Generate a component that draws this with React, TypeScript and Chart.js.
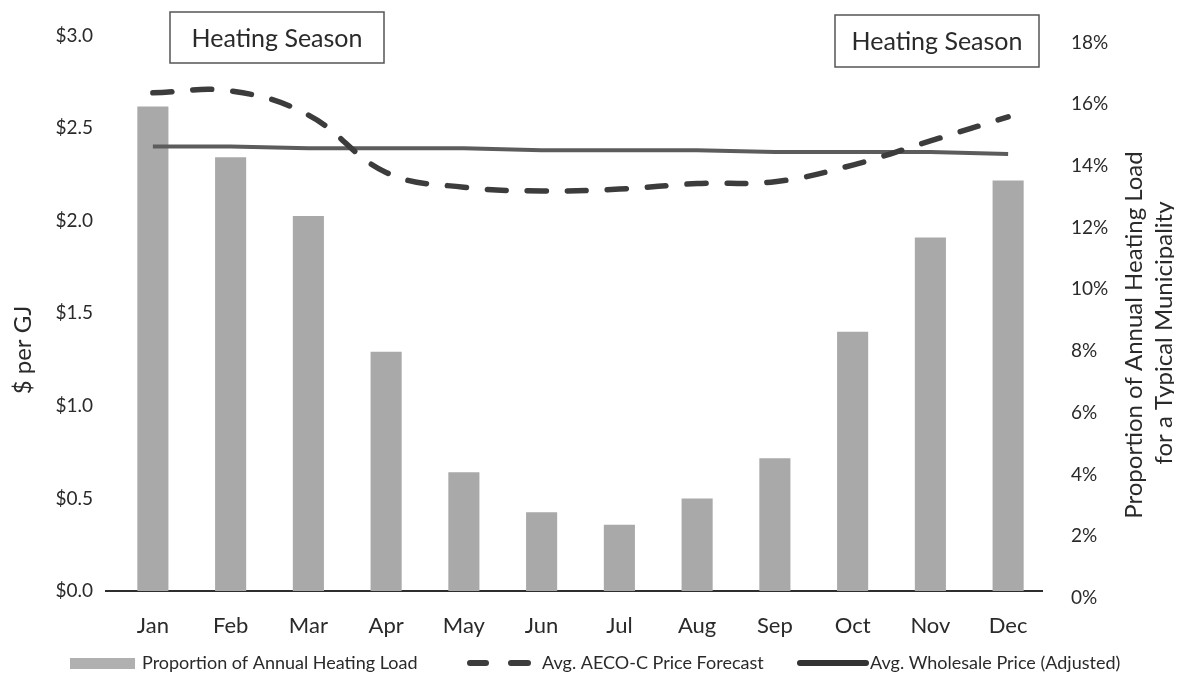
import React, { useEffect, useRef } from "react";
import { Chart, registerables } from "chart.js";

Chart.register(...registerables);

const months = ["Jan", "Feb", "Mar", "Apr", "May", "Jun", "Jul", "Aug", "Sep", "Oct", "Nov", "Dec"];
const heatingLoadPct = [15.7, 14.05, 12.15, 7.75, 3.85, 2.55, 2.15, 3.0, 4.3, 8.4, 11.45, 13.3];
const aecoForecast = [2.69, 2.7, 2.57, 2.26, 2.18, 2.16, 2.17, 2.2, 2.21, 2.3, 2.43, 2.56];
const wholesaleAdjusted = [2.4, 2.4, 2.39, 2.39, 2.39, 2.38, 2.38, 2.38, 2.37, 2.37, 2.37, 2.36];
const priceTicks = [0, 0.5, 1.0, 1.5, 2.0, 2.5, 3.0];
const pctTicks = [0, 2, 4, 6, 8, 10, 12, 14, 16, 18];

const seasonLabel = "Heating Season";
const leftTitle = "$ per GJ";
const rightTitle = ["Proportion of Annual Heating Load", "for a Typical Municipality"];
const legendLabels = [
  "Proportion of Annual Heating Load",
  "Avg. AECO-C Price Forecast",
  "Avg. Wholesale Price (Adjusted)",
];

const FONT = "Lato, 'Open Sans', sans-serif";
const BAR_COLOR = "#a9a9a9";
const DASH_COLOR = "#3c3c3c";
const SOLID_COLOR = "#5c5c5c";
const TEXT_COLOR = "#2a2a2a";

const decorPlugin = {
  id: "decor",
  beforeDatasetsDraw(chart: any) {
    const { ctx, chartArea } = chart;
    ctx.save();
    ctx.strokeStyle = "#2e2e2e";
    ctx.lineWidth = 2;
    ctx.beginPath();
    ctx.moveTo(chartArea.left - 9, chartArea.bottom);
    ctx.lineTo(chartArea.right - 4, chartArea.bottom);
    ctx.stroke();
    ctx.restore();
  },
  afterDraw(chart: any) {
    const { ctx, chartArea } = chart;
    ctx.save();
    // Heating Season boxes
    const drawBox = (x: number, y: number, w: number, h: number) => {
      ctx.fillStyle = "#ffffff";
      ctx.fillRect(x, y, w, h);
      ctx.strokeStyle = "#555555";
      ctx.lineWidth = 1.5;
      ctx.strokeRect(x, y, w, h);
      ctx.fillStyle = TEXT_COLOR;
      ctx.font = `25px ${FONT}`;
      ctx.textAlign = "center";
      ctx.textBaseline = "middle";
      ctx.fillText(seasonLabel, x + w / 2, y + h / 2 + 1);
    };
    drawBox(chartArea.left + 56, 4, 214, 51);
    drawBox(chartArea.right - 212, 7, 204, 52);

    // Axis titles
    ctx.fillStyle = TEXT_COLOR;
    ctx.textAlign = "center";
    ctx.textBaseline = "middle";
    ctx.font = `24px ${FONT}`;
    ctx.save();
    ctx.translate(15, 342);
    ctx.rotate(-Math.PI / 2);
    ctx.fillText(leftTitle, 0, 0);
    ctx.restore();

    ctx.font = `24px ${FONT}`;
    ctx.save();
    ctx.translate(1126, 327);
    ctx.rotate(-Math.PI / 2);
    ctx.fillText(rightTitle[0], 0, 0);
    ctx.restore();
    ctx.save();
    ctx.translate(1156, 325);
    ctx.rotate(-Math.PI / 2);
    ctx.fillText(rightTitle[1], 0, 0);
    ctx.restore();

    // Legend
    const ly = 655;
    ctx.font = `18px ${FONT}`;
    ctx.textAlign = "left";
    ctx.textBaseline = "middle";
    ctx.fillStyle = "#b0b0b0";
    ctx.fillRect(62, ly - 5, 65, 11);
    ctx.fillStyle = TEXT_COLOR;
    ctx.fillText(legendLabels[0], 134, ly);

    ctx.strokeStyle = DASH_COLOR;
    ctx.lineWidth = 6;
    ctx.lineCap = "round";
    ctx.beginPath();
    ctx.moveTo(462, ly);
    ctx.lineTo(478, ly);
    ctx.moveTo(503, ly);
    ctx.lineTo(520, ly);
    ctx.stroke();
    ctx.fillText(legendLabels[1], 534, ly);

    ctx.strokeStyle = "#333333";
    ctx.lineWidth = 6;
    ctx.beginPath();
    ctx.moveTo(792, ly);
    ctx.lineTo(858, ly);
    ctx.stroke();
    ctx.fillText(legendLabels[2], 862, ly);
    ctx.restore();
  },
};

export default function App() {
  const canvasRef = useRef<HTMLCanvasElement | null>(null);

  useEffect(() => {
    document.body.style.margin = "0";
    if (!canvasRef.current) return;
    const chart = new Chart(canvasRef.current, {
      type: "bar",
      data: {
        labels: months,
        datasets: [
          {
            type: "line",
            label: legendLabels[1],
            data: aecoForecast,
            yAxisID: "y",
            borderColor: DASH_COLOR,
            borderWidth: 5.5,
            borderDash: [19, 21],
            borderCapStyle: "round",
            tension: 0.4,
            pointRadius: 0,
            fill: false,
            order: 1,
          } as any,
          {
            type: "line",
            label: legendLabels[2],
            data: wholesaleAdjusted,
            yAxisID: "y",
            borderColor: SOLID_COLOR,
            borderWidth: 4,
            tension: 0,
            pointRadius: 0,
            fill: false,
            order: 2,
          } as any,
          {
            type: "bar",
            label: legendLabels[0],
            data: heatingLoadPct,
            yAxisID: "y1",
            backgroundColor: BAR_COLOR,
            barPercentage: 0.4,
            categoryPercentage: 1.0,
            order: 3,
          } as any,
        ],
      },
      options: {
        animation: false,
        responsive: true,
        maintainAspectRatio: false,
        layout: { padding: { top: 17, left: 0, right: 0, bottom: 0 } },
        plugins: {
          legend: { display: false },
          tooltip: { enabled: false },
          title: { display: false },
        },
        scales: {
          x: {
            type: "category",
            grid: { display: false },
            border: { display: false },
            ticks: {
              color: TEXT_COLOR,
              font: { family: FONT, size: 22 },
              padding: 14,
              maxRotation: 0,
            },
            afterFit(scale: any) {
              scale.height = 88;
            },
          },
          y: {
            position: "left",
            min: 0,
            max: 3,
            grid: { display: false },
            border: { display: false },
            afterBuildTicks(scale: any) {
              scale.ticks = priceTicks.map((v) => ({ value: v }));
            },
            ticks: {
              color: TEXT_COLOR,
              font: { family: FONT, size: 19 },
              padding: 13,
              callback: (v: any) => "$" + Number(v).toFixed(1),
            },
            afterFit(scale: any) {
              scale.width = 106;
            },
          },
          y1: {
            position: "right",
            min: 0,
            max: 18,
            grid: { display: false },
            border: { display: false },
            afterBuildTicks(scale: any) {
              scale.ticks = pctTicks.map((v) => ({ value: v }));
            },
            ticks: {
              color: TEXT_COLOR,
              font: { family: FONT, size: 19 },
              padding: 16,
              labelOffset: 7,
              callback: (v: any) => v + "%",
            },
            afterFit(scale: any) {
              scale.width = 127;
            },
          },
        },
      } as any,
      plugins: [decorPlugin],
    });
    return () => chart.destroy();
  }, []);

  return (
    <div style={{ paddingLeft: 8, paddingTop: 8, width: 1166, height: 671 }}>
      <div style={{ width: 1166, height: 671, position: "relative" }}>
        <canvas ref={canvasRef} />
      </div>
    </div>
  );
}
